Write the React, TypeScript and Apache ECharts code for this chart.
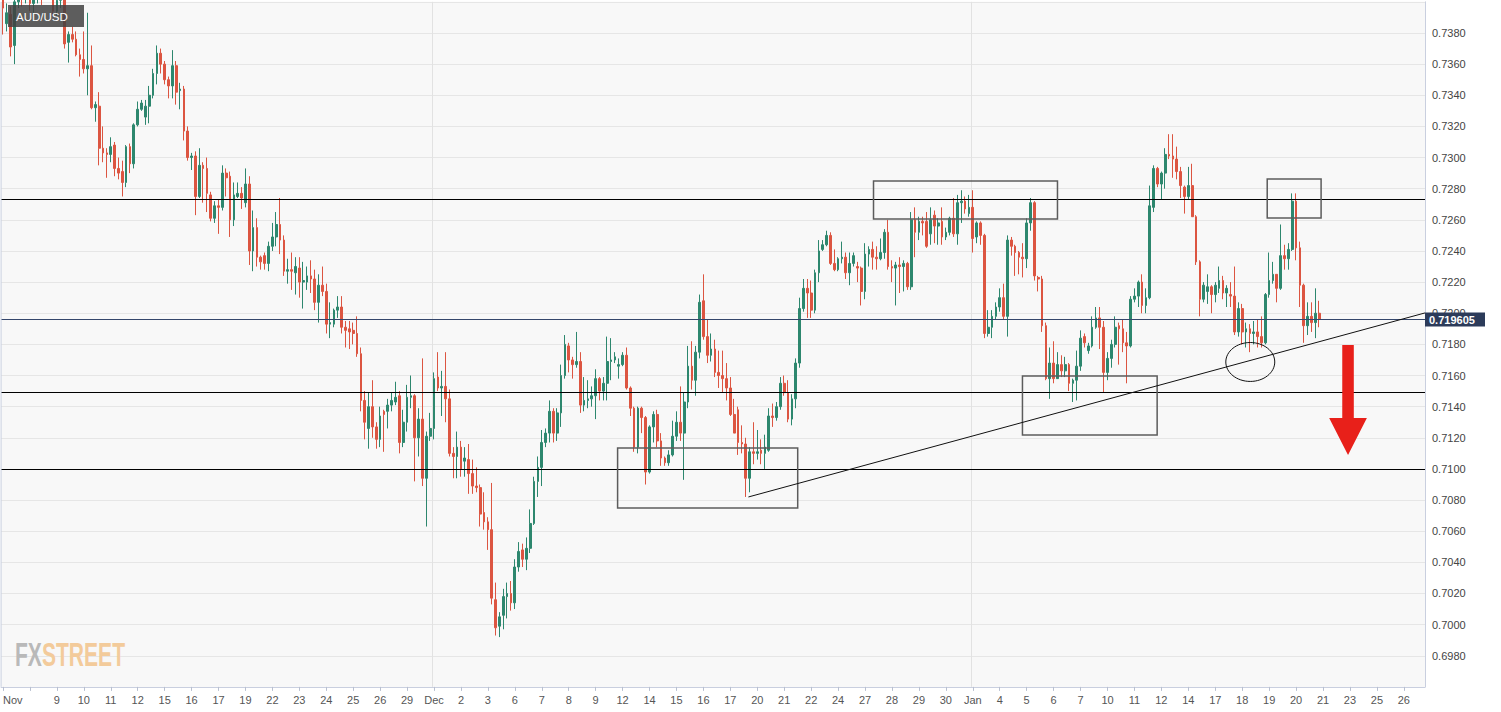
import { useEffect, useRef } from 'react';
import * as echarts from 'echarts';

// ---------- tick labels (one every 7 candles) ----------
const tickLabels = [
  'Nov', '', '9', '10', '11', '12', '15', '16', '17', '19', '22', '23', '24', '25', '26', '29',
  'Dec', '2', '3', '6', '7', '8', '9', '12', '14', '15', '16', '17', '20', '21', '22', '24', '27', '28', '29', '30',
  'Jan', '4', '5', '6', '7', '10', '11', '12', '14', '17', '18', '19', '20', '21', '23', '25', '26',
];
const LABEL_STEP = 7;
const CATEGORY_COUNT = 370;

// ---------- candles [open, close, low, high] ----------
const novCandles = [
  [0.7403, 0.7396, 0.7379, 0.7406], [0.7386, 0.7393, 0.7381, 0.7399], [0.7392, 0.7371, 0.7365, 0.7397], [0.7372, 0.7400, 0.7360, 0.7403],
  [0.7400, 0.7408, 0.7396, 0.7412], [0.7408, 0.7403, 0.7397, 0.7414], [0.7403, 0.7410, 0.7399, 0.7416], [0.7410, 0.7399, 0.7394, 0.7413],
  [0.7399, 0.7402, 0.7393, 0.7408], [0.7402, 0.7409, 0.7399, 0.7415], [0.7409, 0.7404, 0.7398, 0.7413], [0.7404, 0.7413, 0.7401, 0.7420],
  [0.7413, 0.7406, 0.7402, 0.7418], [0.7406, 0.7394, 0.7391, 0.7410], [0.7394, 0.7401, 0.7390, 0.7406], [0.7401, 0.7404, 0.7396, 0.7410],
  [0.7404, 0.7373, 0.7370, 0.7406], [0.7374, 0.7379, 0.7361, 0.7381], [0.7379, 0.7376, 0.7374, 0.7384], [0.7376, 0.7366, 0.7365, 0.7381],
  [0.7366, 0.7363, 0.7352, 0.7370], [0.7363, 0.7357, 0.7354, 0.7381], [0.7357, 0.7359, 0.7340, 0.7393], [0.7359, 0.7332, 0.7331, 0.7372],
  [0.7332, 0.7334, 0.7323, 0.7336], [0.7333, 0.7306, 0.7295, 0.7342], [0.7306, 0.7303, 0.7297, 0.7320], [0.7303, 0.7302, 0.7287, 0.7306],
  [0.7302, 0.7307, 0.7297, 0.7313], [0.7308, 0.7293, 0.7288, 0.7310], [0.7293, 0.7290, 0.7286, 0.7300], [0.7291, 0.7284, 0.7275, 0.7298],
  [0.7284, 0.7307, 0.7281, 0.7308], [0.7307, 0.7296, 0.7290, 0.7309], [0.7296, 0.7321, 0.7293, 0.7322], [0.7321, 0.7331, 0.7320, 0.7336],
  [0.7331, 0.7335, 0.7330, 0.7337], [0.7326, 0.7333, 0.7321, 0.7337], [0.7333, 0.7340, 0.7322, 0.7346], [0.7340, 0.7354, 0.7338, 0.7357],
  [0.7354, 0.7367, 0.7347, 0.7372], [0.7367, 0.7360, 0.7354, 0.7370], [0.7360, 0.7350, 0.7347, 0.7362], [0.7350, 0.7346, 0.7338, 0.7352],
  [0.7346, 0.7359, 0.7338, 0.7369], [0.7359, 0.7342, 0.7334, 0.7362], [0.7343, 0.7344, 0.7331, 0.7348], [0.7344, 0.7317, 0.7311, 0.7346],
  [0.7317, 0.7300, 0.7298, 0.7320], [0.7300, 0.7301, 0.7292, 0.7303], [0.7301, 0.7275, 0.7263, 0.7304], [0.7275, 0.7295, 0.7274, 0.7306],
  [0.7295, 0.7293, 0.7271, 0.7297], [0.7293, 0.7277, 0.7265, 0.7300], [0.7276, 0.7261, 0.7259, 0.7278], [0.7261, 0.7269, 0.7258, 0.7272],
  [0.7269, 0.7268, 0.7251, 0.7273], [0.7268, 0.7290, 0.7266, 0.7295], [0.7290, 0.7287, 0.7275, 0.7293], [0.7288, 0.7260, 0.7249, 0.7291],
  [0.7260, 0.7276, 0.7256, 0.7284], [0.7275, 0.7277, 0.7274, 0.7284], [0.7277, 0.7274, 0.7267, 0.7281], [0.7271, 0.7283, 0.7268, 0.7293],
  [0.7283, 0.7240, 0.7231, 0.7288], [0.7240, 0.7255, 0.7227, 0.7266], [0.7255, 0.7236, 0.7230, 0.7261], [0.7236, 0.7233, 0.7228, 0.7237],
  [0.7237, 0.7232, 0.7228, 0.7239], [0.7232, 0.7243, 0.7227, 0.7246], [0.7243, 0.7249, 0.7240, 0.7258], [0.7249, 0.7257, 0.7243, 0.7265],
  [0.7257, 0.7247, 0.7238, 0.7274], [0.7247, 0.7227, 0.7224, 0.7250], [0.7227, 0.7228, 0.7219, 0.7235], [0.7228, 0.7227, 0.7215, 0.7239],
  [0.7226, 0.7230, 0.7212, 0.7236], [0.7229, 0.7220, 0.7210, 0.7236], [0.7220, 0.7221, 0.7203, 0.7233], [0.7220, 0.7224, 0.7215, 0.7230],
  [0.7224, 0.7222, 0.7213, 0.7234], [0.7222, 0.7207, 0.7202, 0.7228], [0.7207, 0.7218, 0.7194, 0.7225], [0.7218, 0.7214, 0.7211, 0.7230],
  [0.7214, 0.7193, 0.7187, 0.7219], [0.7193, 0.7194, 0.7184, 0.7207], [0.7193, 0.7202, 0.7191, 0.7203], [0.7202, 0.7204, 0.7197, 0.7211],
  [0.7204, 0.7191, 0.7187, 0.7211], [0.7191, 0.7189, 0.7178, 0.7195], [0.7190, 0.7188, 0.7177, 0.7195], [0.7189, 0.7187, 0.7180, 0.7194],
  [0.7187, 0.7174, 0.7172, 0.7198], [0.7174, 0.7144, 0.7137, 0.7178], [0.7144, 0.7130, 0.7119, 0.7150], [0.7126, 0.7140, 0.7113, 0.7149],
  [0.7140, 0.7127, 0.7120, 0.7157], [0.7127, 0.7119, 0.7113, 0.7130], [0.7119, 0.7134, 0.7114, 0.7140], [0.7137, 0.7135, 0.7111, 0.7138],
  [0.7137, 0.7141, 0.7126, 0.7145], [0.7141, 0.7144, 0.7137, 0.7149], [0.7143, 0.7146, 0.7141, 0.7156], [0.7147, 0.7117, 0.7110, 0.7150],
  [0.7117, 0.7130, 0.7114, 0.7138], [0.7130, 0.7146, 0.7124, 0.7154], [0.7146, 0.7147, 0.7139, 0.7160], [0.7147, 0.7120, 0.7092, 0.7148],
  [0.7120, 0.7132, 0.7108, 0.7139], [0.7132, 0.7094, 0.7089, 0.7171], [0.7094, 0.7121, 0.7063, 0.7124], [0.7121, 0.7126, 0.7118, 0.7136],
];

const decCandles = [
  [0.7126, 0.7158, 0.7119, 0.7162], [0.7159, 0.7152, 0.7150, 0.7175], [0.7152, 0.7153, 0.7134, 0.7163], [0.7153, 0.7145, 0.7130, 0.7175],
  [0.7145, 0.7110, 0.7108, 0.7151], [0.7110, 0.7108, 0.7094, 0.7114], [0.7108, 0.7114, 0.7094, 0.7124], [0.7114, 0.7100, 0.7095, 0.7118],
  [0.7105, 0.7107, 0.7095, 0.7114], [0.7106, 0.7097, 0.7084, 0.7116], [0.7097, 0.7089, 0.7084, 0.7106], [0.7089, 0.7088, 0.7085, 0.7101],
  [0.7088, 0.7071, 0.7063, 0.7090], [0.7072, 0.7066, 0.7061, 0.7085], [0.7066, 0.7061, 0.7048, 0.7069], [0.7061, 0.7017, 0.7013, 0.7091],
  [0.7016, 0.6998, 0.6993, 0.7027], [0.6999, 0.7005, 0.6992, 0.7008], [0.7006, 0.7018, 0.6997, 0.7023], [0.7018, 0.7020, 0.7004, 0.7027],
  [0.7020, 0.7014, 0.7009, 0.7028], [0.7014, 0.7037, 0.7010, 0.7042], [0.7037, 0.7047, 0.7034, 0.7053], [0.7048, 0.7042, 0.7037, 0.7052],
  [0.7042, 0.7049, 0.7035, 0.7056], [0.7049, 0.7065, 0.7046, 0.7074], [0.7065, 0.7092, 0.7064, 0.7095], [0.7092, 0.7101, 0.7082, 0.7108],
  [0.7101, 0.7117, 0.7089, 0.7125], [0.7117, 0.7123, 0.7114, 0.7126], [0.7123, 0.7137, 0.7117, 0.7144], [0.7137, 0.7123, 0.7117, 0.7139],
  [0.7123, 0.7136, 0.7118, 0.7139], [0.7136, 0.7160, 0.7127, 0.7167], [0.7160, 0.7180, 0.7158, 0.7186], [0.7179, 0.7170, 0.7162, 0.7181],
  [0.7170, 0.7167, 0.7158, 0.7172], [0.7167, 0.7169, 0.7165, 0.7188], [0.7169, 0.7141, 0.7136, 0.7175], [0.7141, 0.7144, 0.7137, 0.7159],
  [0.7144, 0.7145, 0.7139, 0.7157], [0.7145, 0.7147, 0.7140, 0.7153], [0.7147, 0.7158, 0.7132, 0.7164], [0.7158, 0.7150, 0.7144, 0.7159],
  [0.7150, 0.7155, 0.7144, 0.7159], [0.7155, 0.7169, 0.7144, 0.7185], [0.7169, 0.7170, 0.7157, 0.7184], [0.7170, 0.7172, 0.7168, 0.7175],
  [0.7166, 0.7167, 0.7158, 0.7171], [0.7167, 0.7173, 0.7166, 0.7175], [0.7173, 0.7152, 0.7151, 0.7178], [0.7152, 0.7139, 0.7134, 0.7153],
  [0.7139, 0.7114, 0.7111, 0.7140], [0.7114, 0.7139, 0.7110, 0.7140], [0.7139, 0.7133, 0.7123, 0.7140], [0.7133, 0.7098, 0.7090, 0.7134],
  [0.7098, 0.7127, 0.7097, 0.7128], [0.7127, 0.7135, 0.7117, 0.7137], [0.7135, 0.7118, 0.7114, 0.7138], [0.7118, 0.7107, 0.7102, 0.7123],
  [0.7107, 0.7104, 0.7102, 0.7108], [0.7104, 0.7109, 0.7102, 0.7112], [0.7109, 0.7121, 0.7108, 0.7131], [0.7121, 0.7130, 0.7118, 0.7137],
  [0.7130, 0.7123, 0.7118, 0.7153], [0.7123, 0.7143, 0.7093, 0.7149], [0.7143, 0.7166, 0.7139, 0.7179], [0.7166, 0.7157, 0.7151, 0.7182],
  [0.7157, 0.7175, 0.7147, 0.7179], [0.7175, 0.7207, 0.7171, 0.7212], [0.7208, 0.7185, 0.7183, 0.7225], [0.7185, 0.7173, 0.7168, 0.7196],
  [0.7173, 0.7177, 0.7169, 0.7187], [0.7177, 0.7162, 0.7159, 0.7183], [0.7162, 0.7160, 0.7152, 0.7176], [0.7160, 0.7158, 0.7149, 0.7176],
  [0.7158, 0.7152, 0.7144, 0.7168], [0.7152, 0.7135, 0.7134, 0.7159], [0.7135, 0.7123, 0.7123, 0.7145], [0.7138, 0.7117, 0.7109, 0.7140],
  [0.7117, 0.7116, 0.7110, 0.7128], [0.7116, 0.7094, 0.7082, 0.7120], [0.7094, 0.7111, 0.7085, 0.7114], [0.7111, 0.7110, 0.7103, 0.7130],
  [0.7110, 0.7111, 0.7106, 0.7125], [0.7112, 0.7110, 0.7103, 0.7119], [0.7110, 0.7114, 0.7100, 0.7122], [0.7112, 0.7134, 0.7111, 0.7139],
  [0.7134, 0.7133, 0.7127, 0.7142], [0.7133, 0.7140, 0.7131, 0.7143], [0.7140, 0.7155, 0.7138, 0.7159], [0.7155, 0.7149, 0.7147, 0.7160],
  [0.7149, 0.7132, 0.7130, 0.7157], [0.7132, 0.7145, 0.7128, 0.7148], [0.7145, 0.7168, 0.7139, 0.7171], [0.7168, 0.7203, 0.7165, 0.7210],
  [0.7203, 0.7216, 0.7201, 0.7222], [0.7216, 0.7213, 0.7197, 0.7222], [0.7213, 0.7202, 0.7197, 0.7221], [0.7202, 0.7226, 0.7200, 0.7228],
  [0.7226, 0.7240, 0.7220, 0.7247], [0.7241, 0.7244, 0.7240, 0.7247], [0.7244, 0.7250, 0.7243, 0.7253], [0.7250, 0.7232, 0.7231, 0.7252],
  [0.7232, 0.7228, 0.7227, 0.7241], [0.7228, 0.7235, 0.7227, 0.7236], [0.7235, 0.7236, 0.7232, 0.7246], [0.7236, 0.7226, 0.7222, 0.7239],
  [0.7226, 0.7232, 0.7218, 0.7239], [0.7232, 0.7237, 0.7230, 0.7239], [0.7230, 0.7229, 0.7220, 0.7233], [0.7229, 0.7214, 0.7205, 0.7230],
  [0.7214, 0.7238, 0.7209, 0.7245], [0.7238, 0.7241, 0.7230, 0.7243], [0.7241, 0.7236, 0.7228, 0.7246], [0.7236, 0.7235, 0.7228, 0.7243],
  [0.7235, 0.7239, 0.7234, 0.7248], [0.7239, 0.7252, 0.7235, 0.7254], [0.7252, 0.7230, 0.7228, 0.7260], [0.7230, 0.7229, 0.7220, 0.7234],
  [0.7229, 0.7231, 0.7205, 0.7233], [0.7231, 0.7230, 0.7213, 0.7236], [0.7230, 0.7232, 0.7214, 0.7234], [0.7232, 0.7217, 0.7215, 0.7233],
  [0.7217, 0.7260, 0.7215, 0.7265], [0.7260, 0.7252, 0.7236, 0.7268], [0.7252, 0.7259, 0.7247, 0.7262], [0.7259, 0.7258, 0.7250, 0.7262],
  [0.7259, 0.7243, 0.7242, 0.7265], [0.7251, 0.7260, 0.7244, 0.7268], [0.7263, 0.7256, 0.7245, 0.7266], [0.7256, 0.7258, 0.7244, 0.7261],
  [0.7259, 0.7249, 0.7244, 0.7268], [0.7249, 0.7252, 0.7247, 0.7255], [0.7252, 0.7261, 0.7250, 0.7262], [0.7261, 0.7251, 0.7249, 0.7274],
  [0.7251, 0.7271, 0.7244, 0.7276], [0.7271, 0.7272, 0.7258, 0.7279], [0.7272, 0.7267, 0.7264, 0.7275], [0.7264, 0.7268, 0.7262, 0.7276],
];

const janCandles = [
  [0.7268, 0.7248, 0.7239, 0.7279], [0.7249, 0.7258, 0.7245, 0.7259], [0.7258, 0.7250, 0.7244, 0.7259], [0.7250, 0.7187, 0.7184, 0.7251],
  [0.7187, 0.7191, 0.7185, 0.7202], [0.7191, 0.7198, 0.7184, 0.7202], [0.7198, 0.7204, 0.7196, 0.7207], [0.7204, 0.7210, 0.7201, 0.7216],
  [0.7210, 0.7198, 0.7196, 0.7219], [0.7198, 0.7247, 0.7185, 0.7250], [0.7247, 0.7243, 0.7237, 0.7249], [0.7243, 0.7239, 0.7224, 0.7244],
  [0.7239, 0.7236, 0.7225, 0.7240], [0.7236, 0.7235, 0.7223, 0.7245], [0.7235, 0.7258, 0.7229, 0.7261], [0.7258, 0.7271, 0.7253, 0.7274],
  [0.7271, 0.7224, 0.7221, 0.7272], [0.7223, 0.7222, 0.7214, 0.7224], [0.7222, 0.7192, 0.7188, 0.7224], [0.7192, 0.7158, 0.7157, 0.7194],
  [0.7158, 0.7168, 0.7145, 0.7178], [0.7168, 0.7158, 0.7155, 0.7182], [0.7158, 0.7167, 0.7158, 0.7175], [0.7167, 0.7163, 0.7159, 0.7173],
  [0.7163, 0.7167, 0.7159, 0.7172], [0.7167, 0.7155, 0.7150, 0.7168], [0.7155, 0.7157, 0.7143, 0.7158], [0.7157, 0.7166, 0.7144, 0.7176],
  [0.7166, 0.7184, 0.7163, 0.7189], [0.7185, 0.7181, 0.7178, 0.7187], [0.7176, 0.7179, 0.7174, 0.7181], [0.7179, 0.7191, 0.7178, 0.7198],
  [0.7191, 0.7197, 0.7190, 0.7204], [0.7197, 0.7191, 0.7177, 0.7204], [0.7191, 0.7162, 0.7149, 0.7195], [0.7162, 0.7171, 0.7157, 0.7175],
  [0.7171, 0.7180, 0.7165, 0.7183], [0.7180, 0.7191, 0.7178, 0.7198], [0.7192, 0.7190, 0.7167, 0.7194], [0.7190, 0.7181, 0.7175, 0.7196],
  [0.7181, 0.7179, 0.7155, 0.7188], [0.7179, 0.7209, 0.7178, 0.7211], [0.7209, 0.7211, 0.7207, 0.7216], [0.7211, 0.7220, 0.7204, 0.7221],
  [0.7220, 0.7205, 0.7200, 0.7225], [0.7205, 0.7210, 0.7200, 0.7216], [0.7210, 0.7269, 0.7209, 0.7282], [0.7268, 0.7293, 0.7265, 0.7295],
  [0.7293, 0.7283, 0.7281, 0.7294], [0.7283, 0.7290, 0.7273, 0.7291], [0.7290, 0.7302, 0.7280, 0.7306], [0.7302, 0.7301, 0.7299, 0.7315],
  [0.7301, 0.7299, 0.7287, 0.7315], [0.7299, 0.7291, 0.7286, 0.7307], [0.7291, 0.7282, 0.7274, 0.7294], [0.7281, 0.7275, 0.7264, 0.7282],
  [0.7275, 0.7282, 0.7273, 0.7294], [0.7282, 0.7262, 0.7262, 0.7296], [0.7262, 0.7233, 0.7231, 0.7263], [0.7233, 0.7209, 0.7198, 0.7234],
  [0.7209, 0.7218, 0.7207, 0.7220], [0.7214, 0.7217, 0.7206, 0.7225], [0.7217, 0.7212, 0.7200, 0.7218], [0.7212, 0.7218, 0.7207, 0.7220],
  [0.7216, 0.7221, 0.7213, 0.7230], [0.7221, 0.7213, 0.7209, 0.7224], [0.7213, 0.7216, 0.7204, 0.7218], [0.7212, 0.7211, 0.7204, 0.7220],
  [0.7211, 0.7188, 0.7186, 0.7230], [0.7188, 0.7203, 0.7185, 0.7207], [0.7203, 0.7188, 0.7180, 0.7206], [0.7188, 0.7190, 0.7178, 0.7194],
  [0.7190, 0.7187, 0.7175, 0.7193], [0.7187, 0.7188, 0.7180, 0.7195], [0.7188, 0.7185, 0.7178, 0.7196], [0.7185, 0.7181, 0.7178, 0.7198],
  [0.7181, 0.7212, 0.7180, 0.7213], [0.7212, 0.7221, 0.7210, 0.7239], [0.7221, 0.7225, 0.7219, 0.7233], [0.7225, 0.7216, 0.7207, 0.7225],
  [0.7216, 0.7237, 0.7215, 0.7257], [0.7237, 0.7235, 0.7228, 0.7244], [0.7235, 0.7241, 0.7228, 0.7245], [0.7241, 0.7272, 0.7240, 0.7277],
  [0.7272, 0.7242, 0.7234, 0.7277], [0.7242, 0.7218, 0.7204, 0.7246], [0.7218, 0.7192, 0.7181, 0.7219], [0.7192, 0.7198, 0.7186, 0.7207],
  [0.7198, 0.7194, 0.7188, 0.7207], [0.7194, 0.7200, 0.7184, 0.7216], [0.7200, 0.719605, 0.7191, 0.7208],
];

// ---------- annotations (data units: [category index, price]) ----------
const levelLines = [0.7273, 0.7149, 0.71];
const lastPrice = 0.719605;
const monthStarts = [112, 252];
const trendLine = [[193.7, 0.7082], [369.5, 0.72002]];
const boxes = [
  [159.7, 0.71134, 206.5, 0.70749],
  [226.2, 0.72849, 274.0, 0.72605],
  [264.9, 0.71597, 299.9, 0.71218],
  [328.5, 0.72862, 342.5, 0.72612],
];
const ellipseMark = { idx: 324.1, value: 0.71687, halfIdx: 6.36, halfValue: 0.00125 };
const arrowMark = { idx: 349.5, top: 0.71796, headBase: 0.71327, tip: 0.71089, shaftHalf: 1.5, headHalf: 4.9 };

const UP = '#2d876e';
const DOWN = '#dc5541';
const AXIS = '#c9cfdf';
const FONT = '"Liberation Sans Narrow", "Arial Narrow", "Liberation Sans", Arial, sans-serif';

export default function App() {
  const ref = useRef<HTMLDivElement>(null);

  useEffect(() => {
    const chart = echarts.init(ref.current as HTMLDivElement, null, { renderer: 'svg' });
    const candles = [...novCandles, ...decCandles, ...janCandles];
    const categories = Array.from({ length: CATEGORY_COUNT }, (_, i) => String(i));

    chart.setOption({
      animation: false,
      backgroundColor: '#ffffff',
      grid: { left: 0.5, width: 1424.5, top: 1.86, height: 685.04, show: true, backgroundColor: '#f8f8f8', borderWidth: 0 },
      xAxis: {
        type: 'category',
        data: categories,
        boundaryGap: true,
        axisLine: { show: true, lineStyle: { color: AXIS } },
        axisTick: { show: true, interval: LABEL_STEP - 1, alignWithLabel: true, length: 4, lineStyle: { color: '#b9c0d0' } },
        axisLabel: {
          interval: LABEL_STEP - 1,
          formatter: (_v: string, idx: number) => tickLabels[Math.round(idx / LABEL_STEP)] ?? '',
          color: '#555',
          fontSize: 11,
          fontFamily: FONT,
          margin: 8,
          alignMinLabel: 'left',
        },
        splitLine: { show: true, interval: (idx: number) => monthStarts.includes(idx), lineStyle: { color: '#e2e2e2' } },
      },
      yAxis: {
        type: 'value',
        position: 'right',
        min: 0.696,
        max: 0.74,
        interval: 0.002,
        axisLine: { show: true, lineStyle: { color: AXIS } },
        axisTick: { show: false },
        axisLabel: {
          formatter: (v: number) => v.toFixed(4),
          color: '#444',
          fontSize: 11,
          fontFamily: FONT,
          margin: 7,
          showMinLabel: false,
          showMaxLabel: false,
        },
        splitLine: { show: true, lineStyle: { color: '#e6e6e6' } },
      },
      series: [
        {
          type: 'candlestick',
          data: candles,
          barWidth: 2.2,
          clip: true,
          itemStyle: { color: UP, color0: DOWN, borderColor: UP, borderColor0: DOWN, borderWidth: 1 },
          markLine: {
            silent: true,
            precision: 6,
            symbol: ['none', 'none'],
            label: { show: false },
            data: [
              ...levelLines.map((v) => ({ yAxis: v, lineStyle: { color: '#000', width: 1, type: 'solid' } })),
              { yAxis: lastPrice, lineStyle: { color: '#34466b', width: 1, type: 'solid' } },
            ],
          },
        },
      ],
    });

    const toPx = (idx: number, value: number) => {
      const f = Math.floor(idx);
      const a = chart.convertToPixel({ gridIndex: 0 }, [f, value]) as number[];
      const b = chart.convertToPixel({ gridIndex: 0 }, [f + 1, value]) as number[];
      return [a[0] + (b[0] - a[0]) * (idx - f), a[1]];
    };

    const graphics: any[] = [];
    boxes.forEach(([i1, v1, i2, v2]) => {
      const p1 = toPx(i1, v1);
      const p2 = toPx(i2, v2);
      graphics.push({
        type: 'rect',
        z: 50,
        shape: { x: Math.min(p1[0], p2[0]), y: Math.min(p1[1], p2[1]), width: Math.abs(p2[0] - p1[0]), height: Math.abs(p2[1] - p1[1]) },
        style: { fill: 'rgba(0,0,0,0)', stroke: '#5c5c5c', lineWidth: 1.5 },
      });
    });
    const t1 = toPx(trendLine[0][0], trendLine[0][1]);
    const t2 = toPx(trendLine[1][0], trendLine[1][1]);
    graphics.push({ type: 'line', z: 50, shape: { x1: t1[0], y1: t1[1], x2: t2[0], y2: t2[1] }, style: { stroke: '#111', lineWidth: 1 } });

    const ec = toPx(ellipseMark.idx, ellipseMark.value);
    const ex = toPx(ellipseMark.idx + ellipseMark.halfIdx, ellipseMark.value + ellipseMark.halfValue);
    graphics.push({
      type: 'ellipse',
      z: 50,
      shape: { cx: ec[0], cy: ec[1], rx: Math.abs(ex[0] - ec[0]), ry: Math.abs(ex[1] - ec[1]) },
      style: { fill: 'rgba(0,0,0,0)', stroke: '#111', lineWidth: 1 },
    });

    const aTopL = toPx(arrowMark.idx - arrowMark.shaftHalf, arrowMark.top);
    const aTopR = toPx(arrowMark.idx + arrowMark.shaftHalf, arrowMark.top);
    const aBaseL = toPx(arrowMark.idx - arrowMark.shaftHalf, arrowMark.headBase);
    const aBaseR = toPx(arrowMark.idx + arrowMark.shaftHalf, arrowMark.headBase);
    const aHeadL = toPx(arrowMark.idx - arrowMark.headHalf, arrowMark.headBase);
    const aHeadR = toPx(arrowMark.idx + arrowMark.headHalf, arrowMark.headBase);
    const aTip = toPx(arrowMark.idx, arrowMark.tip);
    graphics.push({
      type: 'polygon',
      z: 50,
      shape: { points: [aTopL, aTopR, aBaseR, aHeadR, aTip, aHeadL, aBaseL] },
      style: { fill: '#e8201a' },
    });

    const pr = toPx(369.5, lastPrice);
    graphics.push({ type: 'rect', z: 100, shape: { x: pr[0], y: pr[1] - 7, width: 60, height: 14 }, style: { fill: '#2c3b5a' } });
    graphics.push({
      type: 'text',
      z: 101,
      x: pr[0] + 4,
      y: pr[1] + 0.5,
      style: { text: lastPrice.toFixed(6), fill: '#fff', fontSize: 11, fontWeight: 'bold', fontFamily: 'Liberation Sans, Arial, sans-serif', verticalAlign: 'middle' },
    });

    // left frame line
    const gl = toPx(-0.5, 0.74);
    const gb = toPx(-0.5, 0.696);
    graphics.push({ type: 'line', z: 40, shape: { x1: gl[0], y1: gl[1], x2: gb[0], y2: gb[1] }, style: { stroke: AXIS, lineWidth: 1 } });

    // pair label
    graphics.push({ type: 'rect', z: 100, shape: { x: 8, y: 5, width: 76, height: 22 }, style: { fill: 'rgba(66,66,66,0.85)' } });
    graphics.push({
      type: 'text',
      z: 101,
      x: 16,
      y: 16.5,
      style: { text: 'AUD/USD', fill: '#fff', fontSize: 11.5, fontFamily: 'Liberation Sans, Arial, sans-serif', verticalAlign: 'middle' },
    });

    // watermark logo (one rich text, condensed)
    graphics.push({
      type: 'text',
      z: 30,
      x: 15,
      y: 654,
      scaleX: 0.62,
      style: {
        text: '{a|FX}{b|STREET}',
        verticalAlign: 'middle',
        rich: {
          a: { fill: '#b9b9b9', fontSize: 34, fontWeight: 'bold', fontFamily: 'Liberation Sans, Arial, sans-serif' },
          b: { fill: '#f3cb9b', fontSize: 34, fontWeight: 'bold', fontFamily: 'Liberation Sans, Arial, sans-serif' },
        },
      },
    });

    chart.setOption({ graphic: graphics });

    return () => chart.dispose();
  }, []);

  return <div ref={ref} style={{ position: 'fixed', left: 0, top: 0, width: 1501, height: 712, background: '#fff' }} />;
}
